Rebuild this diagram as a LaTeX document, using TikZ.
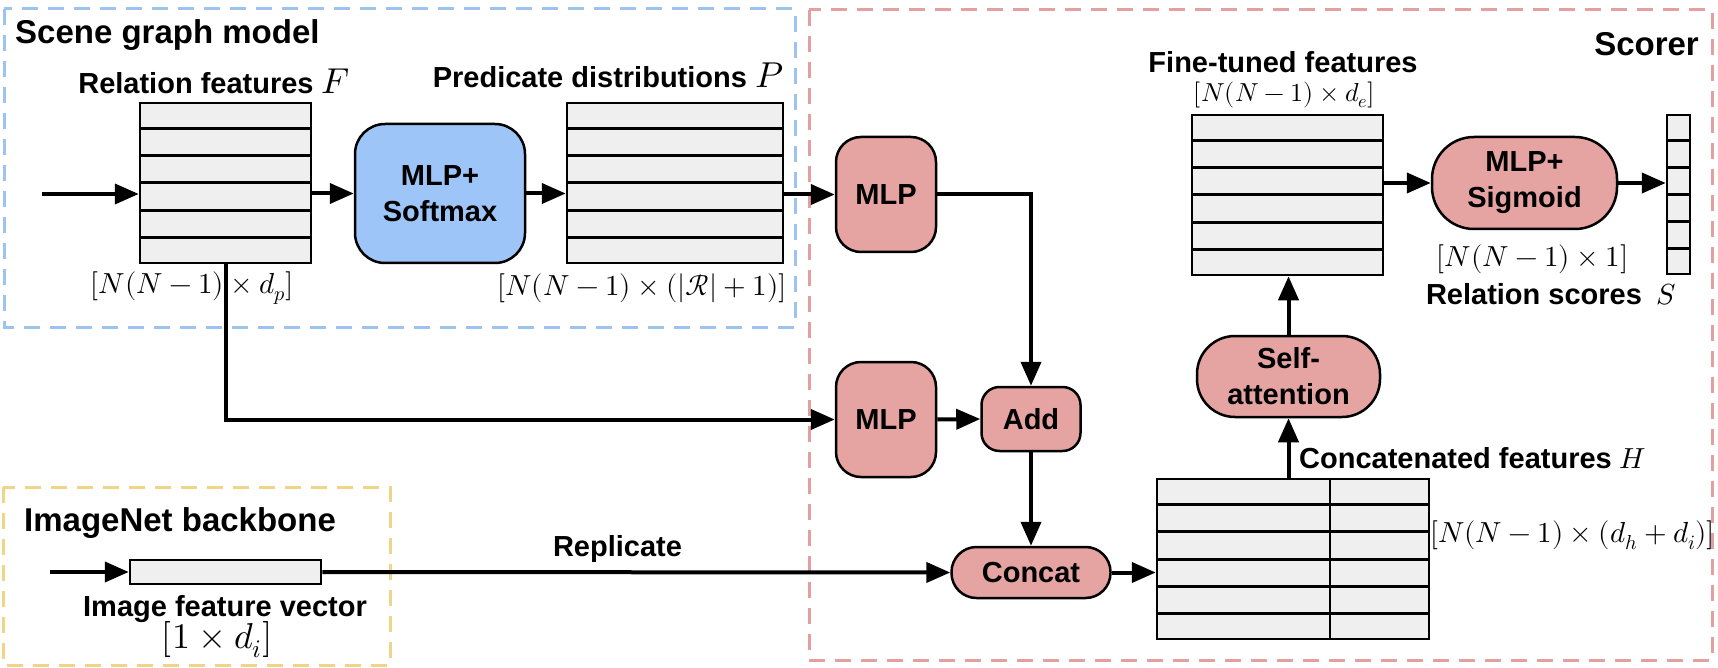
\documentclass[tikz,border=0pt]{standalone}
\usepackage{amsmath}
\usepackage{fontspec}
\usepackage{unicode-math}
\newfontfamily\lblfont{Liberation Sans}
\usetikzlibrary{calc,arrows.meta,positioning}
\definecolor{grpblue}{RGB}{157,196,240}
\definecolor{grpred}{RGB}{226,160,160}
\definecolor{grpyellow}{RGB}{240,212,135}
\definecolor{blkblue}{RGB}{158,197,248}
\definecolor{blkred}{RGB}{229,163,162}
\definecolor{cellgray}{RGB}{239,239,239}
\tikzset{
  grp/.style   ={line width=3pt, dash pattern=on 16pt off 10pt},
  blk/.style   ={rectangle, draw=black, line width=2.5pt, align=center, inner sep=0pt,
                 font=\lblfont\bfseries\fontsize{29}{36}\selectfont},
  blkB/.style  ={blk, fill=blkblue},
  blkR/.style  ={blk, fill=blkred},
  tensor/.style={rectangle, draw=black, fill=cellgray, line width=2.5pt, inner sep=0pt},
  rowline/.style={line width=3pt},
  flow/.style  ={-{Triangle[length=24pt,width=20pt]}, line width=4pt},
  wire/.style  ={line width=4pt},
  lbl/.style   ={font=\lblfont\bfseries\fontsize{29}{34}\selectfont, inner sep=0pt},
  head/.style  ={font=\lblfont\bfseries\fontsize{33}{38}\selectfont, inner sep=0pt},
  dims/.style  ={font=\fontsize{29}{34}\selectfont, inner sep=0pt},
}
\newcommand{\bigsym}[1]{{\fontsize{36}{36}\selectfont$#1$}}
\newcommand{\tensorrows}[1]{%
  \foreach \k in {1,...,5}
    \draw[rowline] ($(#1.north west)!{\k/6}!(#1.south west)$) -- ($(#1.north east)!{\k/6}!(#1.south east)$);}

\begin{document}
\begin{tikzpicture}[x=1pt, y=-1pt]
  \useasboundingbox (0,0) rectangle (1718,668);
  % groups
  \draw[grp, grpblue]   (4,9)    rectangle (795,327);
  \draw[grp, grpred]    (809,10) rectangle (1712,660);
  \draw[grp, grpyellow] (3,487)  rectangle (390,665);
  \node[head, anchor=base west] (tsg)  at (15,44)    {Scene graph model};
  \node[head, anchor=base east] (tsc)  at (1699,56)  {Scorer};
  \node[head, anchor=base west] (tin)  at (24,531)   {ImageNet backbone};

  % scene graph model
  \node[tensor, minimum width=171pt, minimum height=160pt] (relF)  at (225.5,183) {};
  \node[blkB, minimum width=170pt, minimum height=139pt, rounded corners=30pt] (sm) at (440,193.5) {MLP+\\Softmax};
  \node[tensor, minimum width=216pt, minimum height=160pt] (predP) at (675,183) {};
  \tensorrows{relF}
  \tensorrows{predP}
  \node[lbl, anchor=base] (lF) at (214,94) {Relation features \bigsym{F}};
  \node[lbl, anchor=base] (lP) at (608,88) {Predicate distributions \bigsym{P}};
  \node[dims] (dF) at (192,288) {$[N(N-1)\times d_p]$};
  \node[dims] (dP) at (642,288) {$[N(N-1)\times(|\mathcal{R}|+1)]$};
  \coordinate (inF) at (42,194);

  % scorer
  \node[blkR, minimum width=100pt, minimum height=115pt, rounded corners=25pt] (mlpA) at (886,194.5) {MLP};
  \node[blkR, minimum width=100pt, minimum height=115pt, rounded corners=25pt] (mlpB) at (886,419.5) {MLP};
  \node[blkR, minimum width=99pt, minimum height=64pt, rounded corners=18pt]   (add)  at (1031,419)  {Add};
  \node[blkR, minimum width=159pt, minimum height=51pt, rounded corners=25pt]  (cat)  at (1031,572.5) {Concat};
  \node[tensor, minimum width=272pt, minimum height=160pt] (hH) at (1293,559) {};
  \tensorrows{hH}
  \draw[line width=2pt] ($(hH.north west)!0.636!(hH.north east)$) -- ($(hH.south west)!0.636!(hH.south east)$);
  \node[blkR, minimum width=183pt, minimum height=81pt, rounded corners=38pt] (att) at (1288.5,376.5) {Self-\\attention};
  \node[tensor, minimum width=191pt, minimum height=160pt] (ftE) at (1287.5,195) {};
  \tensorrows{ftE}
  \node[blkR, minimum width=185pt, minimum height=92pt, rounded corners=42pt] (sig) at (1524.5,183) {MLP+\\Sigmoid};
  \node[tensor, minimum width=23pt, minimum height=159pt] (scS) at (1678.5,194.5) {};
  \tensorrows{scS}
  \node[lbl, anchor=base] (lE) at (1283,73) {Fine-tuned features};
  \node[dims, font=\fontsize{26}{30}\selectfont] (dE) at (1284.5,95) {$[N(N-1)\times d_e]$};
  \node[dims] (dS) at (1532.5,259) {$[N(N-1)\times 1]$};
  \node[lbl, anchor=base] (lS) at (1551,305) {Relation scores\enspace$S$};
  \node[lbl, anchor=base west] (lH) at (1299,468) {Concatenated features $H$};
  \node[dims] (dH) at (1572.5,535) {$[N(N-1)\times(d_h+d_i)]$};

  % image backbone
  \node[tensor, minimum width=191pt, minimum height=24pt] (imgv) at (225.5,572) {};
  \coordinate (inI) at (50,572);
  \node[lbl, anchor=base] (lI) at (225,616) {Image feature vector};
  \node[dims, font=\fontsize{36}{40}\selectfont] (dI) at (217,640) {$[1\times d_i]$};
  \node[lbl, anchor=base] (lR) at (617.5,556) {Replicate};

  % connections
  \draw[flow] (inF) -- (inF -| relF.west);
  \draw[flow] (relF.east |- sm.west) -- (sm.west);
  \draw[flow] (sm.east) -- (sm.east -| predP.west);
  \draw[flow] (predP.east |- mlpA.west) -- (mlpA.west);
  \draw[flow] (relF.south) |- (mlpB.west);
  \draw[flow] (mlpA.east) -| (add.north);
  \draw[flow] (mlpB.east) -- (add.west);
  \draw[flow] (add.south) -- (cat.north);
  \draw[flow] (inI) -- (imgv.west);
  \draw[flow] (imgv.east) -- (cat.west);
  \draw[flow] (cat.east) -- (cat.east -| hH.west);
  \draw[flow] (att.south |- hH.north) -- (att.south);
  \draw[flow] (att.north) -- (att.north |- ftE.south);
  \draw[flow] (ftE.east |- sig.west) -- (sig.west);
  \draw[flow] (sig.east) -- (sig.east -| scS.west);
\end{tikzpicture}
\end{document}
